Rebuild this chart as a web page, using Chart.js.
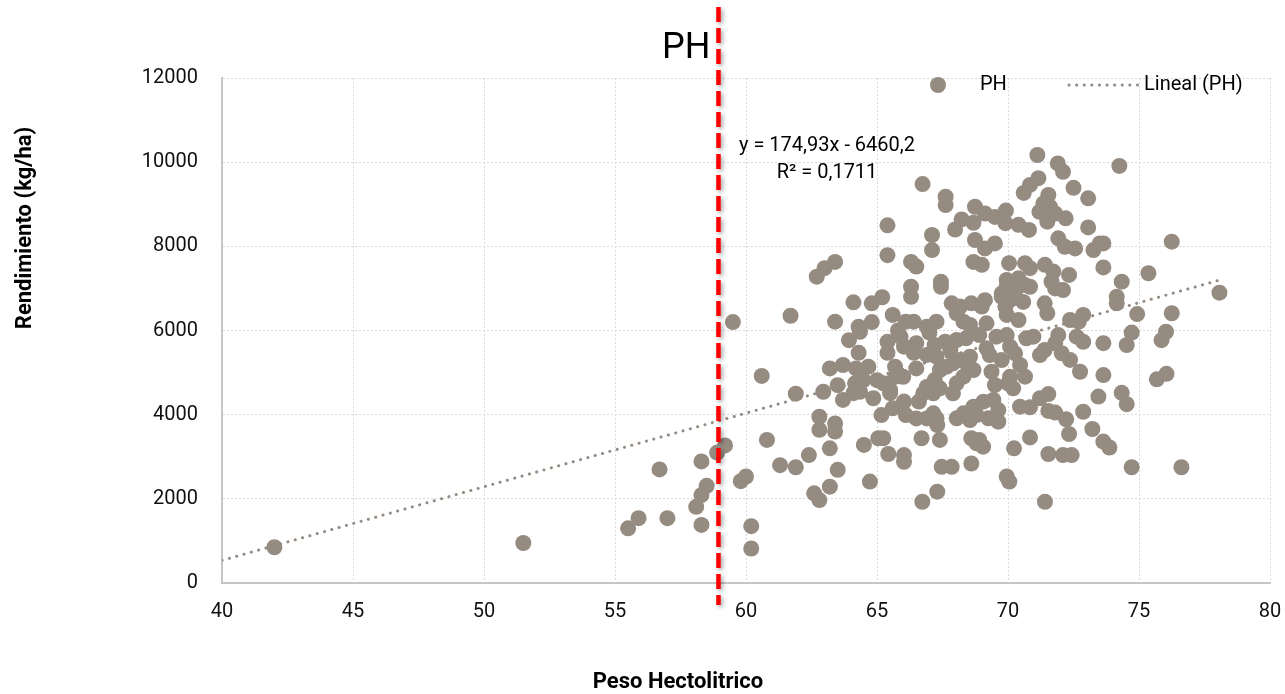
<!DOCTYPE html>
<html lang="es">
<head>
<meta charset="utf-8">
<title>Rendimiento vs Peso Hectolitrico</title>
<script src="https://cdn.jsdelivr.net/npm/chart.js@4.4.1/dist/chart.umd.min.js"></script>
<style>
  html, body { margin: 0; padding: 0; background: #fff; }
  #wrap { width: 1285px; height: 694px; }
</style>
</head>
<body>
<div id="wrap"><canvas id="grafico" width="1285" height="694"></canvas></div>
<script>
// Datos: Peso Hectolitrico (x) vs Rendimiento kg/ha (y)
const pesoHectolitrico = [
  42.0, 51.5, 55.5, 55.9, 57.0, 56.7, 58.1, 58.3, 58.5, 58.3, 58.3, 58.9, 59.2, 59.5, 59.8, 60.0,
  60.2, 60.2, 60.6, 60.8, 61.3, 61.7, 61.9, 61.9, 62.4, 62.6, 62.8, 62.8, 62.8, 62.95, 63.2, 63.7,
  63.5, 63.7, 63.4, 63.4, 63.2, 63.5, 63.2, 63.93, 64.35, 64.3, 64.2, 64.67, 64.16, 64.48, 64.35, 64.1,
  64.86, 65.0, 65.24, 65.5, 65.5, 65.4, 65.4, 65.69, 65.69, 66.0, 66.03, 66.4, 66.9, 66.5, 64.5, 65.05,
  65.24, 64.73, 65.43, 66.03, 66.03, 65.17, 65.6, 66.03, 66.1, 66.5, 66.9, 66.7, 66.73, 66.77, 66.9, 66.6,
  66.74, 65.4, 65.4, 67.1, 67.1, 66.3, 66.5, 63.4, 63.0, 62.7, 66.3, 66.3, 64.1, 64.8, 65.2, 63.4,
  64.3, 65.6, 66.1, 66.4, 66.9, 71.12, 71.9, 72.1, 71.16, 70.84, 70.6, 72.5, 73.06, 71.54, 71.35, 71.6,
  71.2, 71.5, 71.8, 72.2, 67.62, 67.62, 68.74, 69.12, 69.5, 69.92, 69.9, 70.4, 70.8, 68.23, 67.98, 68.68,
  68.74, 69.12, 69.5, 71.92, 72.17, 72.56, 68.68, 69.0, 70.04, 70.65, 70.84, 71.41, 71.73, 72.33, 69.95, 69.95,
  70.4, 70.65, 70.27, 70.84, 69.76, 71.66, 71.8, 72.1, 67.44, 67.44, 67.85, 68.17, 68.6, 69.0, 69.12, 68.04,
  68.3, 68.55, 69.18, 69.76, 69.9, 70.08, 70.58, 69.95, 70.4, 71.4, 71.5, 72.37, 72.7, 67.27, 74.25, 73.06,
  73.5, 73.26, 73.64, 73.64, 76.25, 74.34, 75.36, 74.15, 74.15, 78.07, 72.87, 74.93, 76.25, 74.72, 76.03, 72.87,
  73.64, 74.53, 75.86, 72.75, 73.64, 75.68, 76.05, 73.45, 74.34, 74.53, 72.87, 73.22, 73.64, 73.87, 74.72, 76.62,
  71.41, 69.95, 70.05, 67.3, 67.47, 67.85, 68.6, 68.6, 68.8, 69.05, 68.9, 67.4, 70.23, 70.84, 71.54, 72.1,
  72.43, 72.33, 72.22, 71.54, 71.8, 71.22, 71.54, 70.46, 70.84, 72.37, 72.05, 71.8, 71.4, 71.22, 70.97, 71.92,
  72.62, 70.7, 69.95, 70.08, 70.27, 69.76, 70.46, 70.65, 69.37, 69.5, 70.0, 70.2, 70.08, 69.06, 69.44, 69.63,
  69.25, 69.63, 68.68, 68.8, 68.3, 68.04, 68.55, 67.9, 68.04, 68.3, 68.48, 68.68, 68.55, 68.17, 67.9, 67.66,
  67.4, 67.2, 67.4, 67.15, 67.6, 68.04, 68.4, 68.9, 69.18, 69.56, 67.2, 67.27, 67.8, 67.15, 67.3, 67.27,
  69.3, 64.8, 65.9, 66.5, 67.0, 65.8
];
const rendimiento = [
  850, 950, 1300, 1540, 1540, 2700, 1810, 2090, 2310, 1380, 2890, 3100, 3270, 6200, 2420, 2530,
  1350, 820, 4920, 3400, 2800, 6350, 4500, 2750, 3040, 2130, 1970, 3950, 3640, 4545, 5100, 5180,
  4700, 4350, 3790, 3600, 3200, 2690, 2290, 5770, 5970, 5470, 5100, 5140, 4745, 4820, 4545, 4510,
  4390, 4820, 4745, 4590, 4510, 5730, 5470, 5140, 4900, 4900, 5615, 5470, 5420, 5100, 3280, 3440,
  3440, 2410, 3065, 3040, 2880, 3990, 4150, 4310, 3990, 3910, 3910, 3440, 1930, 4510, 4660, 4310,
  9480, 8500, 7790, 8270, 7910, 7630, 7520, 7630, 7480, 7280, 7040, 6800, 6670, 6645, 6790, 6210,
  6090, 6370, 6210, 6210, 6090, 10170, 9970, 9770, 9620, 9460, 9270, 9390, 9140, 9220, 9020, 8940,
  8820, 8585, 8780, 8665, 9180, 8980, 8940, 8780, 8700, 8850, 8550, 8510, 8390, 8640, 8400, 8560,
  8150, 7950, 8070, 8190, 7990, 7950, 7630, 7560, 7600, 7600, 7480, 7560, 7400, 7320, 7200, 7040,
  7240, 7080, 6920, 7040, 6880, 7160, 7000, 6960, 7160, 7040, 6645, 6570, 6645, 6570, 6720, 6410,
  6210, 6130, 6170, 6800, 6570, 6720, 6680, 6370, 6250, 6645, 6410, 6250, 6210, 6210, 9910, 8450,
  8070, 7910, 8070, 7500, 8110, 7160, 7360, 6800, 6645, 6900, 6370, 6390, 6410, 5950, 5970, 5730,
  5700, 5655, 5770, 5020, 4940, 4840, 4970, 4430, 4520, 4250, 4070, 3660, 3360, 3220, 2750, 2750,
  1930, 2530, 2410, 2170, 2760, 2760, 2840, 3440, 3320, 3240, 3400, 3400, 3200, 3460, 3065, 3040,
  3040, 3540, 3890, 4090, 4050, 4390, 4490, 4190, 4175, 5300, 5460, 5695, 5536, 5417, 5853, 5892,
  5853, 5814, 5892, 5615, 5458, 5298, 5180, 4903, 5021, 4705, 4745, 4626, 4903, 4308, 4348, 4110,
  3913, 3833, 4190, 3992, 4031, 3913, 3873, 4507, 4745, 4903, 5140, 5061, 5377, 5298, 5220, 5140,
  5061, 4823, 4626, 4507, 5734, 5774, 5814, 5892, 5576, 5853, 5655, 5377, 5536, 4031, 3754, 3913,
  5417, 6200, 5850, 5700, 5950, 6000
];
const xTicks = [40, 45, 50, 55, 60, 65, 70, 75, 80];
const yTicks = [0, 2000, 4000, 6000, 8000, 10000, 12000];

// Línea de tendencia (Lineal PH)
const trendSlope = 174.93;
const trendIntercept = -6460.2;
const trendDesde = 40;
const trendHasta = 78;
const ecuacion = 'y = 174,93x - 6460,2';
const r2Texto = 'R² = 0,1711';

// Línea de referencia PH
const lineaPH = 58.95;

const colorPunto = '#958b81';
const fuente = 'Roboto, "Noto Sans", sans-serif';

const puntos = pesoHectolitrico.map((x, i) => ({ x: x, y: rendimiento[i] }));
const tendencia = [trendDesde, trendHasta].map((x) => ({ x: x, y: trendSlope * x + trendIntercept }));

const anotaciones = {
  id: 'anotaciones',
  afterDraw(chart) {
    const { ctx, chartArea, scales } = chart;
    const px = scales.x.getPixelForValue(lineaPH);

    // títulos de ejes
    ctx.save();
    ctx.fillStyle = '#000';
    ctx.font = 'bold 22px ' + fuente;
    ctx.textAlign = 'center';
    ctx.textBaseline = 'middle';
    ctx.fillText('Peso Hectolitrico', 678, 682);
    ctx.translate(25, 228);
    ctx.rotate(-Math.PI / 2);
    ctx.fillText('Rendimiento (kg/ha)', 0, 0);
    ctx.restore();

    // ecuación
    ctx.save();
    ctx.fillStyle = '#000';
    ctx.font = '20px ' + fuente;
    ctx.textAlign = 'center';
    ctx.textBaseline = 'middle';
    ctx.fillText(ecuacion, 827, 146);
    ctx.fillText(r2Texto, 827, 173);
    ctx.restore();

    // leyenda
    ctx.save();
    const ly = chartArea.top + 7;
    ctx.fillStyle = colorPunto;
    ctx.beginPath();
    ctx.arc(938, ly, 8, 0, Math.PI * 2);
    ctx.fill();
    ctx.strokeStyle = colorPunto;
    ctx.lineWidth = 3;
    ctx.lineCap = 'round';
    ctx.setLineDash([0.1, 7.5]);
    ctx.beginPath();
    ctx.moveTo(1069, ly);
    ctx.lineTo(1139, ly);
    ctx.stroke();
    ctx.setLineDash([]);
    ctx.fillStyle = '#000';
    ctx.font = '20px ' + fuente;
    ctx.textAlign = 'left';
    ctx.textBaseline = 'middle';
    ctx.fillText('PH', 980, ly);
    ctx.fillText('Lineal (PH)', 1144, ly);
    ctx.restore();

    // línea roja PH
    ctx.save();
    ctx.shadowColor = 'rgba(0,0,0,0.35)';
    ctx.shadowBlur = 4;
    ctx.shadowOffsetX = 2;
    ctx.shadowOffsetY = 2;
    ctx.strokeStyle = '#ff0000';
    ctx.lineWidth = 4.5;
    ctx.setLineDash([15, 6]);
    ctx.beginPath();
    ctx.moveTo(px, 7);
    ctx.lineTo(px, chartArea.bottom + 22);
    ctx.stroke();
    ctx.restore();

    ctx.save();
    ctx.fillStyle = '#000';
    ctx.font = '36px ' + fuente;
    ctx.textAlign = 'right';
    ctx.textBaseline = 'middle';
    ctx.fillText('PH', px - 8, 49);
    ctx.restore();
  }
};

const ctx = document.getElementById('grafico').getContext('2d');
const grafico = new Chart(ctx, {
  type: 'scatter',
  data: {
    datasets: [
      {
        label: 'Lineal (PH)',
        type: 'line',
        data: tendencia,
        borderColor: colorPunto,
        borderWidth: 3,
        borderDash: [0.1, 7.5],
        borderCapStyle: 'round',
        pointRadius: 0,
        fill: false,
        order: 0,
      },
      {
        label: 'PH',
        data: puntos,
        backgroundColor: colorPunto,
        borderWidth: 0,
        pointRadius: 8,
        pointHoverRadius: 8,
        order: 1,
      },
    ],
  },
  options: {
    responsive: false,
    animation: false,
    devicePixelRatio: 1,
    layout: { padding: { top: 78, right: 15, bottom: 0, left: 0 } },
    scales: {
      x: {
        type: 'linear',
        min: 40,
        max: 80,
        afterBuildTicks: (s) => { s.ticks = xTicks.map((v) => ({ value: v })); },
        afterFit: (s) => { s.height = 111; s.paddingLeft = 0; s.paddingRight = 0; },
        ticks: { color: '#111', font: { family: fuente, size: 20 }, padding: 17, callback: (v) => String(v) },
        grid: { color: '#d9d9d9', lineWidth: 1, drawTicks: false },
        border: { color: '#c6c6c6', width: 2, dash: [2, 2] },
        title: { display: false },
      },
      y: {
        min: 0,
        max: 12000,
        afterBuildTicks: (s) => { s.ticks = yTicks.map((v) => ({ value: v })); },
        afterFit: (s) => { s.width = 222; s.paddingTop = 0; s.paddingBottom = 0; },
        ticks: { color: '#111', font: { family: fuente, size: 20 }, padding: 24, callback: (v) => String(v) },
        grid: { color: '#d9d9d9', lineWidth: 1, drawTicks: false },
        border: { color: '#c6c6c6', width: 2, dash: [2, 2] },
        title: { display: false },
      },
    },
    plugins: {
      legend: { display: false },
      tooltip: { enabled: false },
    },
  },
  plugins: [anotaciones],
});
</script>
</body>
</html>
